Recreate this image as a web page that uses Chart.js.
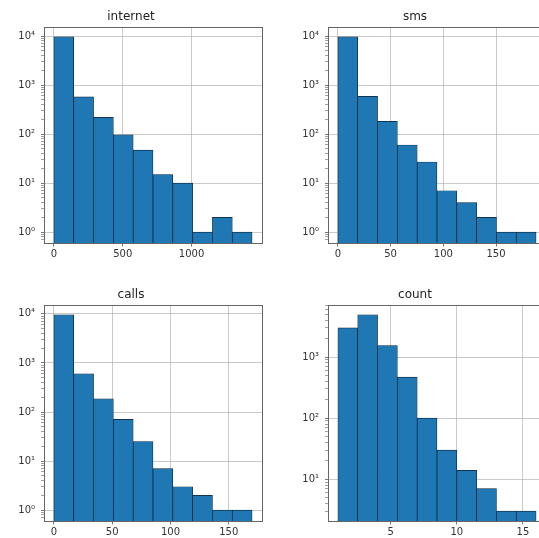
<!DOCTYPE html>
<html><head><meta charset="utf-8">
<script src="https://cdn.jsdelivr.net/npm/chart.js@4"></script>
<style>
html,body{margin:0;padding:0;background:#fff;overflow:hidden;width:539px;height:538px;position:relative;}
.p{position:absolute;width:270px;height:270px;}
canvas{display:block;}
</style></head><body>
<div class="p" style="left:0;top:0"><canvas id="c0" width="270" height="270"></canvas></div>
<div class="p" style="left:284px;top:0"><canvas id="c1" width="270" height="270"></canvas></div>
<div class="p" style="left:0;top:278px"><canvas id="c2" width="270" height="270"></canvas></div>
<div class="p" style="left:284px;top:278px"><canvas id="c3" width="270" height="270"></canvas></div>
<script>
// ---- data (bin centers and counts) ----
const titles = ['internet', 'sms', 'calls', 'count'];

const internetBins   = [72, 216, 360, 504, 648, 792, 936, 1080, 1224, 1368];
const internetCounts = [9700, 575, 220, 97, 47, 15, 10, 1, 2, 1];

const smsBins   = [9.4, 28.2, 47, 65.8, 84.6, 103.4, 122.2, 141, 159.8, 178.6];
const smsCounts = [9700, 590, 183, 60, 27, 7, 4, 2, 1, 1];

const callsBins   = [8.5, 25.5, 42.5, 59.5, 76.5, 93.5, 110.5, 127.5, 144.5, 161.5];
const callsCounts = [9600, 600, 186, 71, 25, 7, 3, 2, 1, 1];

const countBins   = [1.75, 3.25, 4.75, 6.25, 7.75, 9.25, 10.75, 12.25, 13.75, 15.25];
const countCounts = [3000, 4900, 1540, 470, 100, 30, 14, 7, 3, 3];

const internetXTicks = [0, 500, 1000];
const smsXTicks      = [0, 50, 100, 150];
const callsXTicks    = [0, 50, 100, 150];
const countXTicks    = [5, 10, 15];

// ---- rendering ----
const SUP = {'0':'\u2070','1':'\u00b9','2':'\u00b2','3':'\u00b3','4':'\u2074','5':'\u2075','-':'\u207b'};
function isPow10(v){ const l = Math.log10(v); return Math.abs(l - Math.round(l)) < 1e-9; }
function logTicks(min, max){
  const out = [];
  for (let e = Math.floor(Math.log10(min)); e <= Math.ceil(Math.log10(max)); e++) {
    for (let m = 1; m <= 9; m++) {
      const v = m * Math.pow(10, e);
      if (v >= min && v <= max) out.push({value: v, major: m === 1});
    }
  }
  return out;
}

const frame = {
  id: 'frame',
  afterDraw(chart){
    const {ctx, chartArea: a} = chart;
    ctx.save();
    ctx.strokeStyle = '#666';
    ctx.lineWidth = 1;
    ctx.strokeRect(Math.round(a.left) + 0.5, Math.round(a.top) + 0.5, Math.round(a.right - a.left), Math.round(a.bottom - a.top));
    ctx.restore();
  }
};

function makeChart(id, title, bins, counts, xTicks, xMin, xMax, yMin, yMax){
  new Chart(document.getElementById(id), {
    type: 'bar',
    data: {
      datasets: [{
        data: bins.map((x, i) => ({x: x, y: counts[i]})),
        backgroundColor: '#1f77b4',
        borderColor: '#0b1e30',
        borderWidth: 0.7,
        barPercentage: 1,
        categoryPercentage: 1
      }]
    },
    options: {
      responsive: false,
      animation: false,
      devicePixelRatio: 1,
      layout: {padding: {left: 0, right: 8, top: 0, bottom: 0}},
      plugins: {
        legend: {display: false},
        tooltip: {enabled: false},
        title: {
          display: true, text: title, color: '#222',
          font: {family: 'DejaVu Sans', size: 12, weight: 'normal', lineHeight: 1.25},
          padding: {top: 9.5, bottom: 2.5}
        }
      },
      scales: {
        x: {
          type: 'linear', min: xMin, max: xMax, offset: false, z: 1,
          afterBuildTicks: s => { s.ticks = xTicks.map(v => ({value: v})); },
          afterFit: s => { s.height = 27; },
          ticks: {autoSkip: false, maxRotation: 0, color: '#333', padding: 2,
                  font: {family: 'DejaVu Sans', size: 10}, callback: v => String(v)},
          grid: {offset: false, color: 'rgba(176,176,176,0.85)', lineWidth: 0.8,
                 tickColor: '#555', tickLength: 3.5, drawTicks: true},
          border: {display: false}
        },
        y: {
          type: 'logarithmic', min: yMin, max: yMax, z: 1,
          afterBuildTicks: s => { s.ticks = logTicks(yMin, yMax); },
          afterFit: s => { s.width = 44; },
          ticks: {autoSkip: false, color: '#333', padding: 6,
                  font: {family: 'DejaVu Sans', size: 10},
                  callback: v => {
                    if (!isPow10(v)) return '';
                    const e = String(Math.round(Math.log10(v)));
                    return '10' + e.split('').map(c => SUP[c]).join('');
                  }},
          grid: {color: c => (c.tick && isPow10(c.tick.value)) ? 'rgba(176,176,176,0.85)' : 'rgba(0,0,0,0)',
                 lineWidth: 0.8,
                 tickColor: c => (c.tick && isPow10(c.tick.value)) ? '#555' : '#888',
                 tickLength: 3, drawTicks: true},
          border: {display: false}
        }
      }
    },
    plugins: [frame]
  });
}

makeChart('c0', titles[0], internetBins, internetCounts, internetXTicks, -72, 1512, 0.632, 15350);
makeChart('c1', titles[1], smsBins, smsCounts, smsXTicks, -9.4, 197.4, 0.632, 15350);
makeChart('c2', titles[2], callsBins, callsCounts, callsXTicks, -8.5, 178.5, 0.632, 15180);
makeChart('c3', titles[3], countBins, countCounts, countXTicks, 0.25, 16.75, 2.07, 7100);
</script>
</body></html>
